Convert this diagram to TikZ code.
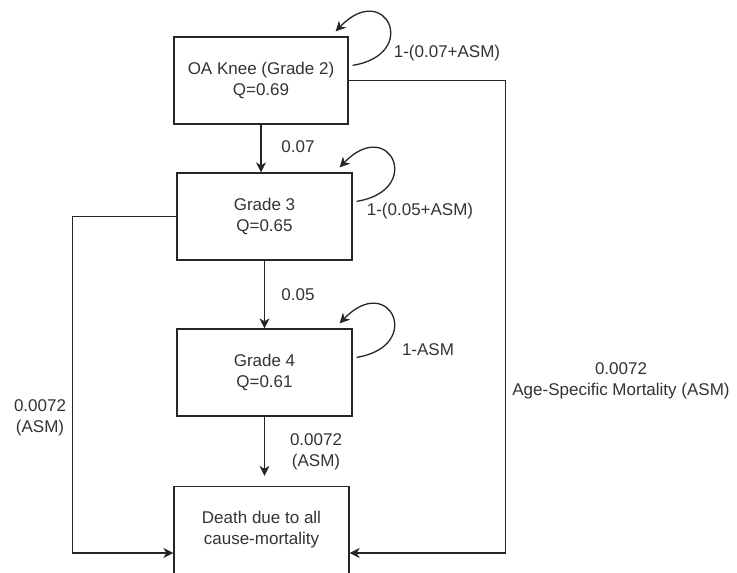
\documentclass[tikz,border=0pt]{standalone}
\usepackage{fontspec}
\setmainfont{Liberation Sans}
\usetikzlibrary{arrows.meta, calc}

\begin{document}
\begin{tikzpicture}[x=1pt, y=-1pt, >={Stealth[length=10pt, width=10pt, inset=3pt]}, line width=1.3pt,
    state/.style={draw=black!85, text=black!80, align=center, minimum width=175pt, minimum height=87pt, font=\fontsize{17}{21}\selectfont},
    lbl/.style={text=black!80, align=center, font=\fontsize{17}{21}\selectfont},
    arr/.style={->, draw=black!85}]
    \useasboundingbox (0,0) rectangle (737,573);
    % States
    \node[state, minimum width=174pt] (oa) at (261,80.5) {OA Knee (Grade 2)\\Q=0.69};
    \node[state] (gthree) at (264.5,216.5) {Grade 3\\Q=0.65};
    \node[state] (gfour) at (264.5,372.5) {Grade 4\\Q=0.61};
    \node[state] (death) at (261.5,530) {Death due to all\\cause-mortality};
    \coordinate (dL) at ($(death.west)+(0,23)$);
    \coordinate (dR) at ($(death.east)+(0,23)$);
    % Progression
    \draw[arr] (oa.south) -- (oa.south |- gthree.north);
    \draw[arr] (gthree.south) -- (gthree.south |- gfour.north);
    \draw[arr, shorten >=10pt] (gfour.south) -- (gfour.south |- death.north);
    % Mortality
    \draw[arr] (oa.east) -- ++(157,0) |- (dR);
    \draw[arr] (gthree.west) -- ++(-104,0) |- (dL);
    % Self loops
    \foreach \b in {oa, gthree, gfour}
        \draw[arr] ($(\b.north east)+(4,29)$) .. controls ($(\b.north east)+(72,18)$) and ($(\b.north east)+(37,-57)$) .. ($(\b.north east)+(-13,-5)$);
    % Labels
    \node[lbl] (pstay) at (447,53) {1-(0.07+ASM)};
    \node[lbl] (ptwo) at (298,147) {0.07};
    \node[lbl] (pstaythree) at (420,211) {1-(0.05+ASM)};
    \node[lbl] (pthree) at (298,295) {0.05};
    \node[lbl] (pstayfour) at (428,350) {1-ASM};
    \node[lbl] (pfour) at (316,452) {0.0072\\(ASM)};
    \node[lbl] (pleft) at (40,417.5) {0.0072\\(ASM)};
    \node[lbl] (pright) at (621,381) {0.0072\\Age-Specific Mortality (ASM)};
\end{tikzpicture}
\end{document}
